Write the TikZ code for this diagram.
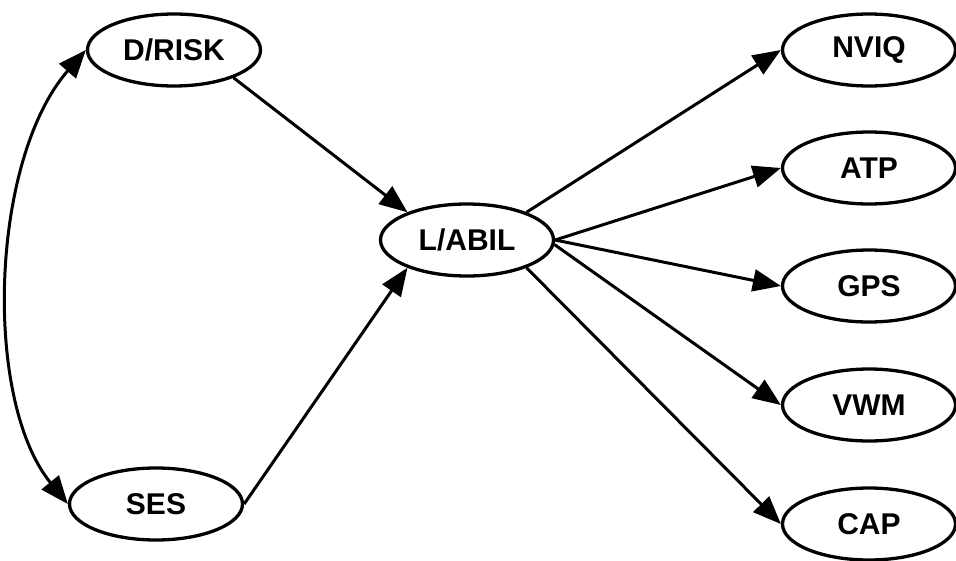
\documentclass[tikz,border=0pt]{standalone}
\usepackage{fontspec}
\setmainfont{Liberation Sans}
\usetikzlibrary{shapes.geometric,arrows.meta}
\tikzset{
  var/.style={ellipse, draw, line width=3.3pt, minimum width=173pt, minimum height=72pt,
    inner sep=0pt, font=\fontsize{30}{36}\selectfont\bfseries},
  path/.style={line width=3pt, -{Triangle[length=28pt,width=22pt]}},
  cov/.style={line width=3pt, {Triangle[length=28pt,width=22pt]}-{Triangle[length=28pt,width=22pt]}}
}
\begin{document}
\begin{tikzpicture}[x=1pt,y=-1pt]
\useasboundingbox (0,0) rectangle (956,560);
\node[var] (drisk) at (174,50) {D/RISK};
\node[var] (ses) at (156,504) {SES};
\node[var] (labil) at (467,240) {L/ABIL};
\node[var] (nviq) at (869,50) {NVIQ};
\node[var] (atp) at (869,168) {ATP};
\node[var] (gps) at (869,286) {GPS};
\node[var] (vwm) at (869,405) {VWM};
\node[var] (cap) at (869,524) {CAP};

\draw[cov] (drisk.west) .. controls (-10,160) and (-17,400) .. (ses.west);
\draw[path] (drisk.-25) -- (labil.155);
\draw[path] (ses.east) -- (labil.205);
\draw[path] (labil.25) -- (nviq.west);
\draw[path] (labil.east) -- (atp.west);
\draw[path] (labil.east) -- (gps.west);
\draw[path] (labil.-3) -- (vwm.west);
\draw[path] (labil.-25) -- (cap.west);
\end{tikzpicture}
\end{document}
